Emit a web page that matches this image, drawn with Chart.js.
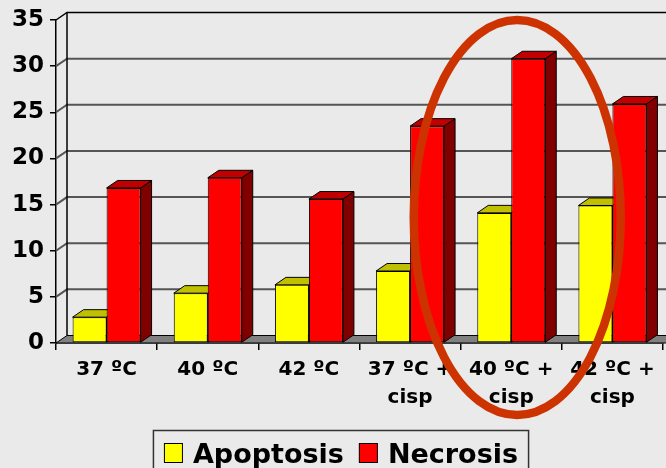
<!DOCTYPE html>
<html>
<head>
<meta charset="utf-8">
<script src="https://cdn.jsdelivr.net/npm/chart.js@4.4.1/dist/chart.umd.min.js"></script>
<style>
  html, body { margin: 0; padding: 0; background: #eaeaea; }
  #c { display: block; }
</style>
</head>
<body>
<canvas id="c" width="666" height="468"></canvas>
<script>
// Cell death by treatment (%)
const categories = ['37 ºC', '40 ºC', '42 ºC', ['37 ºC +', 'cisp'], ['40 ºC +', 'cisp'], ['42 ºC +', 'cisp']];
const apoptosis = [2.8, 5.4, 6.3, 7.8, 14.1, 14.9];
const necrosis = [16.8, 17.9, 15.6, 23.5, 30.8, 25.9];
const yTicks = [0, 5, 10, 15, 20, 25, 30, 35];
const seriesNames = ['Apoptosis', 'Necrosis'];

const FONT = "'DejaVu Sans', sans-serif";
const BG = '#eaeaea';
const DX = 11, DY = -7.5;            // depth offset of the 3D box
const shades = [
  { front: '#ffff00', top: '#c0c000', side: '#808000' },
  { front: '#ff0000', top: '#c00000', side: '#800000' }
];

function poly(ctx, pts, fill, stroke, lw) {
  ctx.beginPath();
  ctx.moveTo(pts[0][0], pts[0][1]);
  for (let i = 1; i < pts.length; i++) ctx.lineTo(pts[i][0], pts[i][1]);
  ctx.closePath();
  if (fill) { ctx.fillStyle = fill; ctx.fill(); }
  if (stroke) { ctx.strokeStyle = stroke; ctx.lineWidth = lw || 1; ctx.stroke(); }
}

// Walls, floor and the top/side faces of each column
const box3d = {
  id: 'box3d',
  beforeDraw(chart) {
    const { ctx, width, height } = chart;
    ctx.save();
    ctx.fillStyle = BG;
    ctx.fillRect(0, 0, width, height);
    ctx.restore();
  },
  beforeDatasetsDraw(chart) {
    const { ctx, chartArea: a, scales: { y } } = chart;
    ctx.save();
    ctx.lineJoin = 'miter';
    // back-wall gridlines with their left-wall diagonals
    yTicks.forEach(v => {
      if (v === 0) return;
      const py = y.getPixelForValue(v);
      ctx.beginPath();
      ctx.moveTo(a.left, py);
      ctx.lineTo(a.left + DX, py + DY);
      ctx.lineTo(a.right + DX + 20, py + DY);
      ctx.strokeStyle = v === 35 ? '#000' : '#555';
      ctx.lineWidth = v === 35 ? 1.5 : 2;
      ctx.stroke();
    });
    // back edge of the side wall
    ctx.beginPath();
    ctx.moveTo(a.left + DX, y.getPixelForValue(35) + DY);
    ctx.lineTo(a.left + DX, a.bottom + DY);
    ctx.strokeStyle = '#000';
    ctx.lineWidth = 1.5;
    ctx.stroke();
    // floor
    poly(ctx, [[a.left, a.bottom], [a.right + 40, a.bottom], [a.right + 40 + DX, a.bottom + DY], [a.left + DX, a.bottom + DY]], '#808080', '#000', 1);

    // column tops and sides (fronts are drawn by the bar controller)
    const metas = chart.data.datasets.map((d, i) => chart.getDatasetMeta(i));
    for (let j = 0; j < categories.length; j++) {
      metas.forEach((meta, i) => {
        const el = meta.data[j];
        const l = el.x - el.width / 2, r = el.x + el.width / 2;
        const t = el.y, b = el.base;
        const c = shades[i];
        poly(ctx, [[r, t], [r + DX, t + DY], [r + DX, b + DY], [r, b]], c.side, '#000', 1);
        poly(ctx, [[l, t], [l + DX, t + DY], [r + DX, t + DY], [r, t]], c.top, '#000', 1);
      });
    }
    ctx.restore();
  }
};

// Boxed legend along the bottom edge
const boxedLegend = {
  id: 'boxedLegend',
  afterDraw(chart) {
    const { ctx } = chart;
    ctx.save();
    ctx.font = "bold 27px " + FONT;
    ctx.textBaseline = 'alphabetic';
    const sw = 19, gapText = 10, gapItem = 15;
    const widths = seriesNames.map(n => ctx.measureText(n).width);
    const total = widths.reduce((s, w) => s + sw + gapText + w, 0) + gapItem * (seriesNames.length - 1);
    const cx = 341;
    let x = cx - total / 2;
    const top = 430.5;
    poly(ctx, [[x - 10.5, top], [x + total + 10.5, top], [x + total + 10.5, top + 60], [x - 10.5, top + 60]], null, '#333', 1.5);
    seriesNames.forEach((n, i) => {
      ctx.fillStyle = shades[i].front;
      ctx.fillRect(x, 443.5, sw, sw);
      ctx.strokeStyle = '#000';
      ctx.lineWidth = 1;
      ctx.strokeRect(x + 0.5, 443.5, sw - 1, sw);
      ctx.fillStyle = '#000';
      ctx.fillText(n, x + sw + gapText, 462.5);
      x += sw + gapText + widths[i] + gapItem;
    });
    ctx.restore();
  }
};

// Highlight ring around the 40 ºC + cisp group
const highlight = {
  id: 'highlight',
  afterDraw(chart) {
    const { ctx, scales: { x, y } } = chart;
    ctx.save();
    ctx.beginPath();
    ctx.ellipse(x.getPixelForValue(4) + 6, y.getPixelForValue(13.6), 103.5, 197.5, 0, 0, Math.PI * 2);
    ctx.strokeStyle = '#cc3300';
    ctx.lineWidth = 8.5;
    ctx.stroke();
    ctx.restore();
  }
};

new Chart(document.getElementById('c'), {
  type: 'bar',
  data: {
    labels: categories,
    datasets: [
      { label: seriesNames[0], data: apoptosis, backgroundColor: shades[0].front, borderColor: '#000', borderWidth: 1, borderSkipped: false },
      { label: seriesNames[1], data: necrosis, backgroundColor: shades[1].front, borderColor: '#000', borderWidth: 1, borderSkipped: false }
    ]
  },
  options: {
    responsive: false,
    animation: false,
    devicePixelRatio: 1,
    layout: { padding: { top: 20, right: 3, left: 0, bottom: 0 } },
    datasets: { bar: { categoryPercentage: 0.672, barPercentage: 1 } },
    plugins: { legend: { display: false }, tooltip: { enabled: false } },
    scales: {
      x: {
        grid: { offset: true, drawOnChartArea: false, drawTicks: true, tickLength: 7, color: '#000', lineWidth: 1.5 },
        border: { display: true, color: '#000', width: 1.5 },
        ticks: { font: { family: FONT, size: 20, weight: 'bold', lineHeight: 1.4 }, color: '#000', padding: 6, maxRotation: 0, autoSkip: false },
        afterFit(s) { s.height = 125; }
      },
      y: {
        min: 0, max: 35,
        ticks: { stepSize: 5, font: { family: FONT, size: 23, weight: 'bold' }, color: '#000', padding: 6 },
        grid: { drawOnChartArea: false, drawTicks: true, tickLength: 6, color: '#000', lineWidth: 1.5 },
        border: { display: true, color: '#000', width: 1.5 },
        afterFit(s) { s.width = 56; }
      }
    }
  },
  plugins: [box3d, boxedLegend, highlight]
});
</script>
</body>
</html>
